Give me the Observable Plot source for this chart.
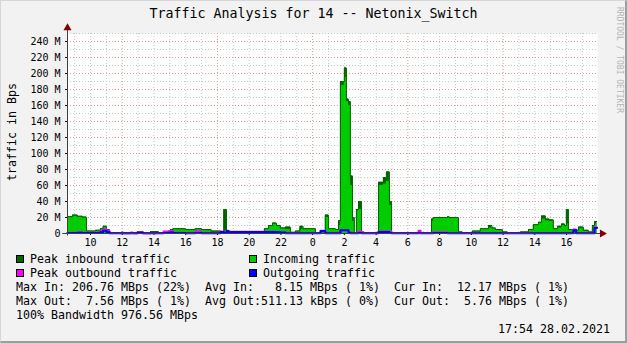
<!DOCTYPE html>
<html><head><meta charset="utf-8">
<script src="https://cdn.jsdelivr.net/npm/d3@7"></script>
<script src="https://cdn.jsdelivr.net/npm/@observablehq/plot@0.6"></script>
<style>
html,body{margin:0;padding:0;background:#f2f2f2;}
#wrap{position:relative;width:627px;height:343px;overflow:hidden;font-family:"DejaVu Sans Mono",monospace;color:#000;background:#f2f2f2;}
#wrap svg{position:absolute;left:0;top:0;}
.frame{position:absolute;left:0;top:0;width:627px;height:343px;box-sizing:border-box;border-style:solid;border-width:1px 2px 2px 1px;border-color:#d6d6d6 #9e9e9e #9e9e9e #d6d6d6;pointer-events:none;}
.t{position:absolute;white-space:pre;line-height:14px;font-size:11.63px;}
.sw{position:absolute;width:8px;height:8px;box-sizing:border-box;border:1px solid #000;}
.title{position:absolute;left:0;width:627px;text-align:center;top:6px;line-height:16px;font-size:13.3px;white-space:pre;}
.ylab{position:absolute;left:12px;top:132px;transform:translate(-50%,-50%) rotate(-90deg);font-size:11.63px;line-height:14px;white-space:pre;}
.wm{position:absolute;left:619px;top:60px;transform:translate(-50%,-50%) rotate(90deg);font-size:8px;line-height:10px;white-space:pre;color:#b4b4b4;}
</style></head>
<body><div id="wrap"></div>
<script>
// ---- data (hours since midnight of day 1; values in M) ----
const times = [
 8.55, 8.87, 9.18, 9.5, 9.75, 10.32, 10.63, 10.8, 11.01, 11.2,
 11.95, 12.1, 12.52, 12.7, 12.96, 13.3, 13.78, 14.28, 14.6, 14.9,
 15.04, 15.2, 16.0, 16.6, 17.0, 17.25, 17.6, 18.19, 18.4, 18.57,
 18.7, 20.96, 21.22, 21.47, 21.72, 21.97, 22.29, 22.6, 22.92, 23.2,
 23.4, 24.18, 24.5, 24.8, 25.0, 25.44, 25.63, 25.75, 26.0, 26.13,
 26.26, 26.38, 26.51, 26.63, 26.76, 26.89, 27.08, 27.2, 28.15, 28.46,
 28.65, 28.84, 28.97, 30.67, 30.8, 31.49, 31.6, 32.5, 32.6, 33.19,
 33.44, 34.07, 34.57, 35.08, 35.3, 35.52, 35.96, 36.28, 37.1, 37.6,
 37.91, 38.23, 38.42, 38.67, 38.92, 39.17, 39.43, 39.68, 39.87, 39.99,
 40.12, 40.43, 40.6, 40.75, 41.06, 41.38, 41.63, 41.76, 41.92
];
const peakIn = [
 21, 23, 21.5, 20.5, 3, 4, 6, 9, 5, 1,
 1.5, 0.5, 1.5, 0.5, 1.5, 0.5, 2.5, 1, 1, 3,
 5, 6, 5, 6, 5, 5, 3, 2, 30, 2,
 0.5, 6, 10, 13, 10, 7, 8, 1.5, 3, 9,
 6, 1, 2, 23, 6, 5, 16, 190, 207, 168,
 165, 72, 20, 1, 30, 40, 2, 1, 64, 70,
 77, 40, 0.5, 0.5, 0.5, 18, 20, 21, 20, 2,
 0.5, 3, 6, 10, 7, 5, 2, 0.5, 2, 5,
 11, 14, 22, 18, 17, 6, 9, 12, 10, 30,
 5, 3, 4, 8, 4, 2, 10, 15, 15
];
const incoming = [
 20, 22, 20.5, 19.5, 2.5, 3, 5, 7.5, 4, 0.3,
 1, 0.2, 1, 0.2, 1, 0.2, 2, 0.5, 0.5, 2,
 3, 5, 4.5, 5, 4, 3.5, 2, 1.5, 3, 1,
 0, 5, 9, 12, 9, 6, 5, 1, 2.5, 5,
 5, 0.5, 1, 20, 5, 4, 10, 185, 195, 165,
 160, 60, 15, 0.5, 28, 30, 1, 0.5, 60, 62,
 65, 35, 0, 0, 0, 15, 19, 20, 19, 1,
 0.3, 2.5, 5, 7, 6, 4, 1, 0.3, 1.5, 4,
 10, 13, 18, 16, 15, 5, 7, 10, 9, 12,
 4, 2, 3, 6, 3, 1, 8, 12, 12
];
const peakOut = [
 1, 1, 1.5, 1, 0.8, 1, 3, 5, 3, 0.5,
 0.5, 0.4, 0.5, 0.4, 1.5, 0.4, 0.6, 0.5, 2.5, 1.5,
 3, 0.8, 0.6, 2.5, 0.6, 0.6, 0.6, 2.5, 1, 3.5,
 2.2, 2.2, 2.2, 2.2, 2, 1.5, 0.5, 0.5, 0.5, 0.5,
 0.5, 0.5, 3.5, 0.5, 0.5, 0.5, 0.5, 4.2, 4.2, 4.2,
 1.5, 0.5, 0.5, 0.5, 0.5, 2.5, 1.5, 0.5, 2.5, 2.5,
 2.5, 2.5, 0.5, 3.5, 0.5, 0.5, 1.5, 0.5, 0.5, 0.5,
 0.5, 0.5, 0.5, 0.5, 0.5, 0.5, 0.5, 0.5, 0.5, 0.5,
 0.5, 0.5, 0.5, 0.5, 0.5, 0.5, 0.5, 0.5, 0.5, 0.5,
 0.5, 5, 0.5, 0.5, 0.5, 0.5, 0.5, 7.5, 7.5
];
const outgoing = [
 0.6, 0.6, 0.8, 0.5, 0.5, 0.6, 2, 3.5, 2, 0.3,
 0.3, 0.3, 0.3, 0.3, 1.2, 0.3, 0.4, 0.3, 0.5, 1,
 1.5, 0.5, 0.4, 0.5, 0.4, 0.4, 0.4, 2, 0.5, 3,
 1.8, 1.8, 1.8, 1.8, 1.8, 1.2, 0.3, 0.3, 0.3, 0.3,
 0.3, 0.3, 3, 0.3, 0.3, 0.3, 0.3, 4, 4, 4,
 1, 0.3, 0.3, 0.3, 0.3, 0.5, 0.3, 0.3, 2, 2,
 2, 0.5, 0.3, 0.5, 0.3, 0.3, 0.5, 0.3, 0.3, 0.3,
 0.3, 0.3, 0.3, 0.3, 0.3, 0.3, 0.3, 0.3, 0.3, 0.3,
 0.3, 0.3, 0.3, 0.3, 0.3, 0.3, 0.3, 0.3, 0.3, 0.3,
 0.3, 4, 0.3, 0.3, 0.3, 0.3, 0.3, 7, 7
];
const xDomain = [8.55, 41.95];
const yDomain = [0, 250];
const xTicks = [10, 12, 14, 16, 18, 20, 22, 24, 26, 28, 30, 32, 34, 36, 38, 40];
const xMinorGrid = [9,10,11,13,14,15,16,17,19,20,21,22,23,25,26,27,28,29,31,32,33,34,35,37,38,39,40,41];
const xMajorGrid = [12, 18, 24, 30, 36];
const yTicks = [0, 20, 40, 60, 80, 100, 120, 140, 160, 180, 200, 220, 240];
const yMinorGrid = [10, 30, 50, 70, 90, 110, 130, 150, 170, 190, 210, 230, 250];
const yMajorGrid = [20, 40, 60, 80, 100, 120, 140, 160, 180, 200, 220, 240];
const titleText = "Traffic Analysis for 14 -- Netonix_Switch";
const yLabel = "traffic in Bps";
const legendLabels = ["Peak inbound traffic", "Incoming traffic", "Peak outbound traffic", "Outgoing traffic"];
const legendColors = ["#006600", "#00cc00", "#ff00ff", "#0000ff"];
const statLines = [
 "Max In: 206.76 MBps (22%)  Avg In:   8.15 MBps ( 1%)  Cur In:  12.17 MBps ( 1%)",
 "Max Out:  7.56 MBps ( 1%)  Avg Out:511.13 kBps ( 0%)  Cur Out:  5.76 MBps ( 1%)",
 "100% Bandwidth 976.56 MBps"
];
const stampText = "17:54 28.02.2021";
const watermark = "RRDTOOL / TOBI OETIKER";

const data = times.map((t, i) => ({t, peakIn: peakIn[i], incoming: incoming[i], peakOut: peakOut[i], outgoing: outgoing[i]}));

const chart = Plot.plot({
  width: 627, height: 343,
  marginLeft: 67, marginRight: 30, marginTop: 33, marginBottom: 110,
  style: {background: "transparent", fontFamily: "DejaVu Sans Mono", fontSize: "10px", color: "#000"},
  x: {domain: xDomain, ticks: xTicks, tickFormat: d => String(d % 24), tickSize: 2, tickPadding: 3, label: null},
  y: {domain: yDomain, ticks: yTicks, tickFormat: d => d === 0 ? "0" : d + " M", tickSize: 2, tickPadding: 5, label: null},
  marks: [
    Plot.frame({fill: "white", stroke: "none"}),
    Plot.ruleY(yMinorGrid, {stroke: "#c8c8c8", strokeDasharray: "1,2"}),
    Plot.ruleX(xMinorGrid, {stroke: "#c8c8c8", strokeDasharray: "1,2"}),
    Plot.ruleY(yMajorGrid, {stroke: "#e09a9a", strokeDasharray: "1,2"}),
    Plot.ruleX(xMajorGrid, {stroke: "#e09a9a", strokeDasharray: "1,2"}),
    Plot.areaY(data, {x: "t", y: "peakIn", fill: "#006600", curve: "step-after"}),
    Plot.areaY(data, {x: "t", y: "incoming", fill: "#00cc00", curve: "step-after"}),
    Plot.lineY(data, {x: "t", y: "peakIn", stroke: "#006600", strokeWidth: 1, curve: "step-after"}),
    Plot.lineY(data, {x: "t", y: "peakOut", stroke: "#ff00ff", strokeWidth: 2, curve: "step-after"}),
    Plot.lineY(data, {x: "t", y: "outgoing", stroke: "#0000ff", strokeWidth: 2, curve: "step-after"}),
    Plot.ruleY([0], {x1: xDomain[0] - 0.3, x2: xDomain[1] + 0.2, stroke: "#404040"}),
    Plot.ruleX([xDomain[0]], {y1: -3, y2: 257, stroke: "#404040"}),
    Plot.dot([0], {x: () => xDomain[0], y: () => 257, symbol: "triangle", r: 3, fill: "#800000", stroke: "none"}),
    Plot.dot([0], {x: () => xDomain[1] + 0.3, y: () => 0, symbol: "triangle", r: 3, fill: "#800000", stroke: "none", rotate: 90})
  ]
});
const wrap = document.getElementById("wrap");
wrap.append(chart);

function addDiv(cls, text, css) {
  const d = document.createElement("div");
  d.className = cls;
  if (text != null) d.textContent = text;
  Object.assign(d.style, css || {});
  wrap.append(d);
  return d;
}
addDiv("title", titleText);
addDiv("ylab", yLabel);
addDiv("wm", watermark);
const legPos = [[16, 30, 259], [249, 263, 259], [16, 30, 273], [249, 263, 273]];
legendLabels.forEach((lab, i) => {
  const [sx, tx, cy] = legPos[i];
  addDiv("sw", null, {left: sx + "px", top: (cy - 4) + "px", background: legendColors[i]});
  addDiv("t", lab, {left: tx + "px", top: (cy - 7) + "px"});
});
statLines.forEach((s, i) => addDiv("t", s, {left: "16px", top: (287 + 14 * i - 7) + "px"}));
addDiv("t", stampText, {right: (627 - 610) + "px", top: (329 - 7) + "px"});
addDiv("frame");
</script>
</body></html>
